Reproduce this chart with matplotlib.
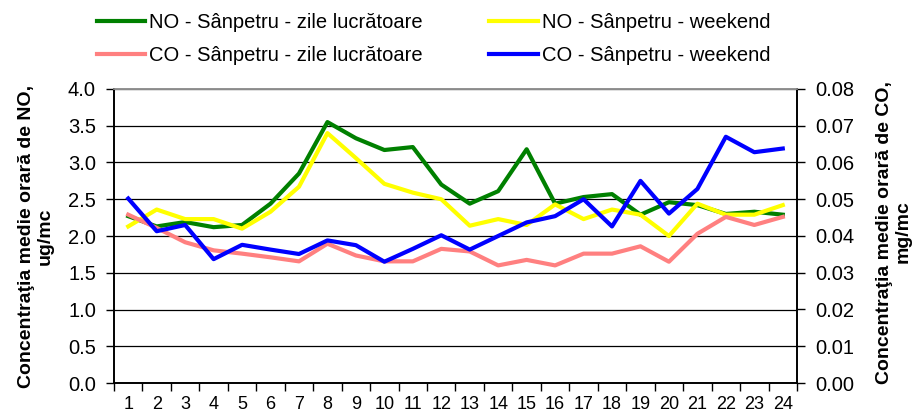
import matplotlib
matplotlib.use("Agg")
import matplotlib.pyplot as plt
import numpy as np

plt.rcParams['font.family'] = ['Liberation Sans', 'DejaVu Sans']

# ore 1..24
hours = list(range(1, 25))
hour_labels = [str(h) for h in hours]

# NO, ug/mc (axa stanga)
no_weekday = [2.27, 2.13, 2.19, 2.12, 2.15, 2.44, 2.85, 3.55, 3.33, 3.17, 3.21, 2.70,
              2.44, 2.61, 3.18, 2.44, 2.53, 2.57, 2.29, 2.46, 2.42, 2.30, 2.33, 2.29]
no_weekend = [2.13, 2.36, 2.23, 2.23, 2.10, 2.33, 2.67, 3.40, 3.06, 2.71, 2.59, 2.50,
              2.14, 2.23, 2.15, 2.43, 2.23, 2.36, 2.29, 2.00, 2.44, 2.29, 2.29, 2.42]

# CO, mg/mc (axa dreapta)
co_weekday = [0.0458, 0.0422, 0.0383, 0.0361, 0.0352, 0.0342, 0.0331, 0.0379, 0.0347, 0.0331, 0.0331, 0.0365,
              0.0358, 0.0320, 0.0335, 0.0320, 0.0352, 0.0352, 0.0372, 0.0330, 0.0406, 0.0452, 0.0430, 0.0452]
co_weekend = [0.0502, 0.0413, 0.0430, 0.0337, 0.0376, 0.0363, 0.0351, 0.0388, 0.0375, 0.0330, 0.0365, 0.0402,
              0.0363, 0.0400, 0.0437, 0.0454, 0.0500, 0.0426, 0.0550, 0.0461, 0.0528, 0.0670, 0.0628, 0.0638]

labels = ["NO - Sânpetru - zile lucrătoare", "NO - Sânpetru - weekend",
          "CO - Sânpetru - zile lucrătoare", "CO - Sânpetru - weekend"]
colors = ["#008000", "#FFFF00", "#FF8080", "#0000FF"]

fig = plt.figure(figsize=(9.15, 4.15), dpi=100)
ax = fig.add_axes([114/915, 1 - 383/415, (797 - 114)/915, (383 - 89)/415])
ax2 = ax.twinx()

l1, = ax.plot(hours, no_weekday, color=colors[0], lw=3, label=labels[0])
l2, = ax.plot(hours, no_weekend, color=colors[1], lw=3, label=labels[1])
l3, = ax2.plot(hours, co_weekday, color=colors[2], lw=3, label=labels[2])
l4, = ax2.plot(hours, co_weekend, color=colors[3], lw=3, label=labels[3])

ax.set_xlim(0.5, 24.5)
ax.set_ylim(0, 4)
ax2.set_ylim(0, 0.08)
ax.set_yticks(np.arange(0, 4.01, 0.5))
ax.set_yticklabels([f"{v:.1f}" for v in np.arange(0, 4.01, 0.5)])
ax2.set_yticks(np.arange(0, 0.0801, 0.01))
ax2.set_yticklabels([f"{v:.2f}" for v in np.arange(0, 0.0801, 0.01)])

# ticks at category boundaries, labels centred
ax.set_xticks(np.arange(0.5, 24.6, 1))
ax.set_xticklabels([])
ax.set_xticks(hours, minor=True)
ax.set_xticklabels(hour_labels, minor=True)
ax.tick_params(axis='x', which='major', direction='out', length=6, width=1, color='black')
ax.tick_params(axis='x', which='minor', length=0, pad=9, labelsize=13)
ax.tick_params(axis='y', direction='out', length=6, width=1, pad=7, labelsize=14.5)
ax2.tick_params(axis='y', direction='out', length=6, width=1, pad=7, labelsize=14.5)

ax.grid(axis='y', color='black', lw=0.9)
ax.set_axisbelow(True)

for a in (ax, ax2):
    a.spines['top'].set_color('#909090')
    a.spines['left'].set_color('black')
    a.spines['right'].set_color('black')
    a.spines['bottom'].set_color('black')
    for s in a.spines.values():
        s.set_linewidth(1.2)

fig.text(36/915, 1 - 236/415, "Concentraţia medie orară de NO,\nug/mc", rotation=90,
         ha='center', va='center', multialignment='center', fontsize=14,
         fontweight='bold', linespacing=1.15)
fig.text(894/915, 1 - 232/415, "Concentraţia medie orară de CO,\nmg/mc", rotation=90,
         ha='center', va='center', multialignment='center', fontsize=14,
         fontweight='bold', linespacing=1.15)

fig.legend([l1, l3, l2, l4], [labels[0], labels[2], labels[1], labels[3]],
           loc='upper left', bbox_to_anchor=(97/915, 1 - 13/415), ncol=2,
           frameon=False, fontsize=14.5, handlelength=2.4, handletextpad=0.2,
           columnspacing=3.3, labelspacing=0.7, borderpad=0, borderaxespad=0)

fig.savefig("out.png", dpi=100)
